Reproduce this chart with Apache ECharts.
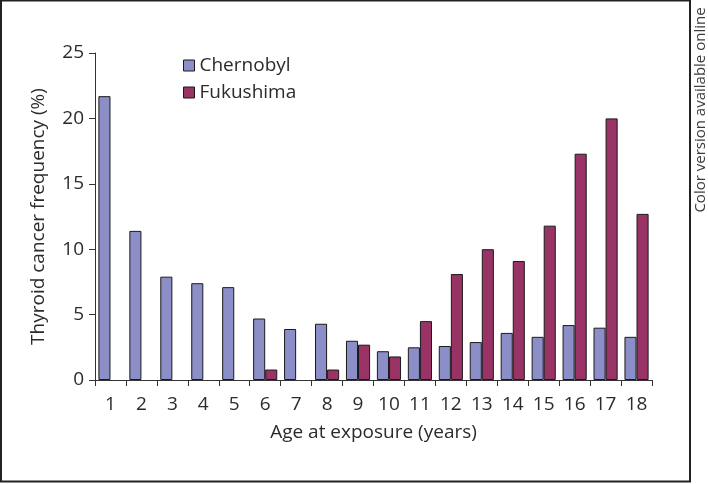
<!DOCTYPE html>
<html>
<head>
<meta charset="utf-8">
<script src="https://cdn.jsdelivr.net/npm/echarts@6/dist/echarts.min.js"></script>
<style>
html,body{margin:0;padding:0;background:#fff;}
#c{width:708px;height:484px;}
</style>
</head>
<body>
<div id="c"></div>
<script>
const categories = ['1','2','3','4','5','6','7','8','9','10','11','12','13','14','15','16','17','18'];
const chernobyl = [21.7, 11.4, 7.9, 7.4, 7.1, 4.7, 3.9, 4.3, 3.0, 2.2, 2.5, 2.6, 2.9, 3.6, 3.3, 4.2, 4.0, 3.3];
const fukushima = [0, 0, 0, 0, 0, 0.8, 0, 0.8, 2.7, 1.8, 4.5, 8.1, 10.0, 9.1, 11.8, 17.3, 20.0, 12.7];
const yTicks = [0, 5, 10, 15, 20, 25];

// zero values draw no visible bar in the reference
const asBars = arr => arr.map(v => (v === 0 ? '-' : v));

const FONT = '"Open Sans", "Noto Sans", sans-serif';
const chart = echarts.init(document.getElementById('c'), null, {renderer: 'canvas'});
chart.setOption({
  animation: false,
  backgroundColor: '#fff',
  textStyle: {fontFamily: FONT},
  grid: {left: 95, top: 53, right: 56, bottom: 104, containLabel: false},
  legend: {
    orient: 'vertical', left: 178, top: 51,
    itemWidth: 11, itemHeight: 11, itemGap: 8,
    icon: 'rect',
    textStyle: {fontSize: 19, color: '#2b2b2b', fontFamily: FONT},
    data: [
      {name: 'Chernobyl', itemStyle: {borderColor: '#1a1a1a', borderWidth: 1}},
      {name: 'Fukushima', itemStyle: {borderColor: '#1a1a1a', borderWidth: 1}}
    ]
  },
  xAxis: {
    type: 'category',
    data: categories,
    name: 'Age at exposure (years)',
    nameLocation: 'middle',
    nameGap: 43,
    nameTextStyle: {fontSize: 19, color: '#2b2b2b', fontFamily: FONT},
    axisLine: {lineStyle: {color: '#333', width: 1}},
    axisTick: {show: true, length: 6, inside: false, alignWithLabel: false, lineStyle: {color: '#333'}},
    axisLabel: {fontSize: 19, color: '#2b2b2b', margin: 15, interval: 0, fontFamily: FONT}
  },
  yAxis: {
    type: 'value',
    min: 0, max: 25, interval: 5,
    name: 'Thyroid cancer frequency (%)',
    nameLocation: 'middle',
    nameGap: 47,
    nameTextStyle: {fontSize: 19, color: '#2b2b2b', fontFamily: FONT},
    axisLine: {show: true, lineStyle: {color: '#333', width: 1}},
    axisTick: {show: true, length: 6, lineStyle: {color: '#333'}},
    axisLabel: {fontSize: 19, color: '#2b2b2b', margin: 11, fontFamily: FONT,
      formatter: v => yTicks.includes(v) ? String(v) : ''},
    splitLine: {show: false}
  },
  series: [
    {name: 'Chernobyl', type: 'bar', data: asBars(chernobyl), barGap: '0%', barCategoryGap: '22%',
      itemStyle: {color: '#8c8ec8', borderColor: '#1a1a1a', borderWidth: 1}},
    {name: 'Fukushima', type: 'bar', data: asBars(fukushima), barGap: '0%', barCategoryGap: '22%',
      itemStyle: {color: '#993366', borderColor: '#1a1a1a', borderWidth: 1}}
  ],
  graphic: [
    {type: 'rect', shape: {x: 1, y: 0.5, width: 689, height: 481}, style: {fill: 'none', stroke: '#222', lineWidth: 2}, silent: true},
    {type: 'text', x: 701, y: 110, rotation: Math.PI / 2,
      style: {text: 'Color version available online', fontSize: 15, fontFamily: FONT, fill: '#3a3a3a', align: 'center', verticalAlign: 'middle'}}
  ]
});
</script>
</body>
</html>
